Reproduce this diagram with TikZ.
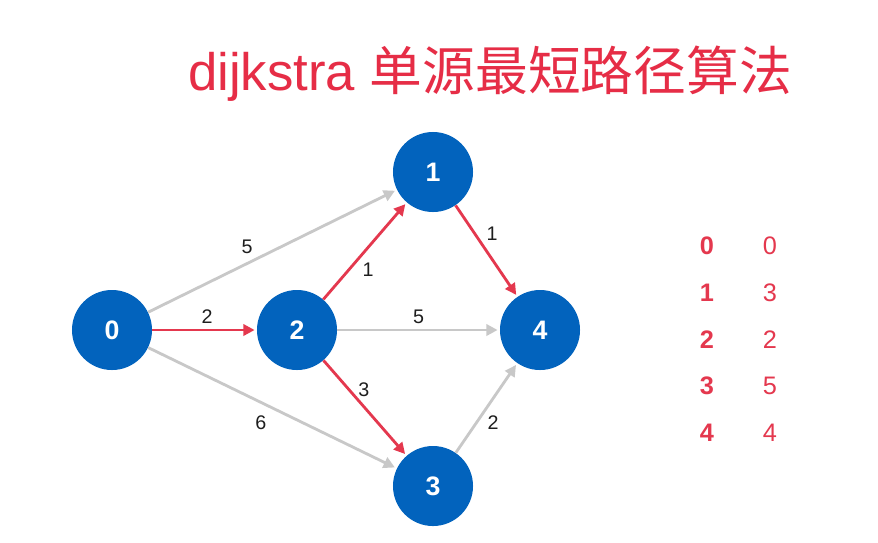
\documentclass[tikz,border=0pt]{standalone}
\usepackage{fontspec}
\setmainfont{Liberation Sans}
\newfontfamily\cjk{Noto Sans CJK SC}
\usepackage{xcolor}
\usepackage{tikz}
\usetikzlibrary{arrows.meta, positioning}
\definecolor{DjkBlue}{RGB}{2, 99, 189}
\definecolor{DjkRed}{RGB}{228, 56, 78}
\definecolor{DjkTitle}{RGB}{230, 45, 70}
\definecolor{DjkGray}{RGB}{200, 200, 200}
\definecolor{DjkText}{RGB}{30, 30, 30}

\begin{document}
\begin{tikzpicture}[
    x=0.025cm, y=-0.025cm,
    vertex/.style={circle, fill=DjkBlue, minimum size=2cm, inner sep=0pt,
      text=white, font=\fontsize{19}{20}\selectfont\bfseries},
    link/.style={line width=2pt, draw=DjkGray,
      -{Triangle[length=8pt, width=8pt]}, shorten >=1.5pt},
    used/.style={link, draw=DjkRed},
    weight/.style={inner sep=0pt, text=DjkText, font=\fontsize{14}{15}\selectfont},
    distkey/.style={text=DjkRed, font=\fontsize{18}{19}\selectfont\bfseries},
    distval/.style={text=DjkRed, font=\fontsize{18}{19}\selectfont}
  ]
    \fill[white] (0,0) rectangle (878,542);
    \useasboundingbox (0,0) rectangle (878,542);

    % title
    \node[text=DjkTitle, font=\fontsize{37.5}{40}\selectfont] (title) at (490,74)
      {dijkstra {\cjk 单源最短路径算法}};

    % graph
    \node[vertex] (v0) at (112,330) {0};
    \node[vertex] (v2) at (297,330) {2};
    \node[vertex] (v1) at (433,172) {1};
    \node[vertex] (v3) at (433,486) {3};
    \node[vertex] (v4) at (540,330) {4};

    \draw[link] (v0) -- node[weight, pos=0.424, xshift=-4.7pt, yshift=9.5pt] {5} (v1);
    \draw[link] (v0) -- node[weight, pos=0.486, xshift=-5.8pt, yshift=-11.9pt] {6} (v3);
    \draw[link] (v2) -- node[weight, pos=0.5, yshift=9.2pt] {5} (v4);
    \draw[link] (v3) -- node[weight, pos=0.42, xshift=8.1pt, yshift=-5.5pt] {2} (v4);
    \draw[used] (v0) -- node[weight, pos=0.524, yshift=9.2pt] {2} (v2);
    \draw[used] (v2) -- node[weight, pos=0.403, xshift=7.9pt, yshift=-6.8pt] {1} (v1);
    \draw[used] (v2) -- node[weight, pos=0.379, xshift=6.4pt, yshift=5pt] {3} (v3);
    \draw[used] (v1) -- node[weight, pos=0.40, xshift=8.3pt, yshift=5.6pt] {1} (v4);

    % distances
    \foreach \k/\d/\y in {0/0/246, 1/3/293, 2/2/340, 3/5/386, 4/4/433} {
      \node[distkey] (key\k) at (707,\y) {\k};
      \node[distval] (dist\k) at (770,\y) {\d};
    }
  \end{tikzpicture}
\end{document}
